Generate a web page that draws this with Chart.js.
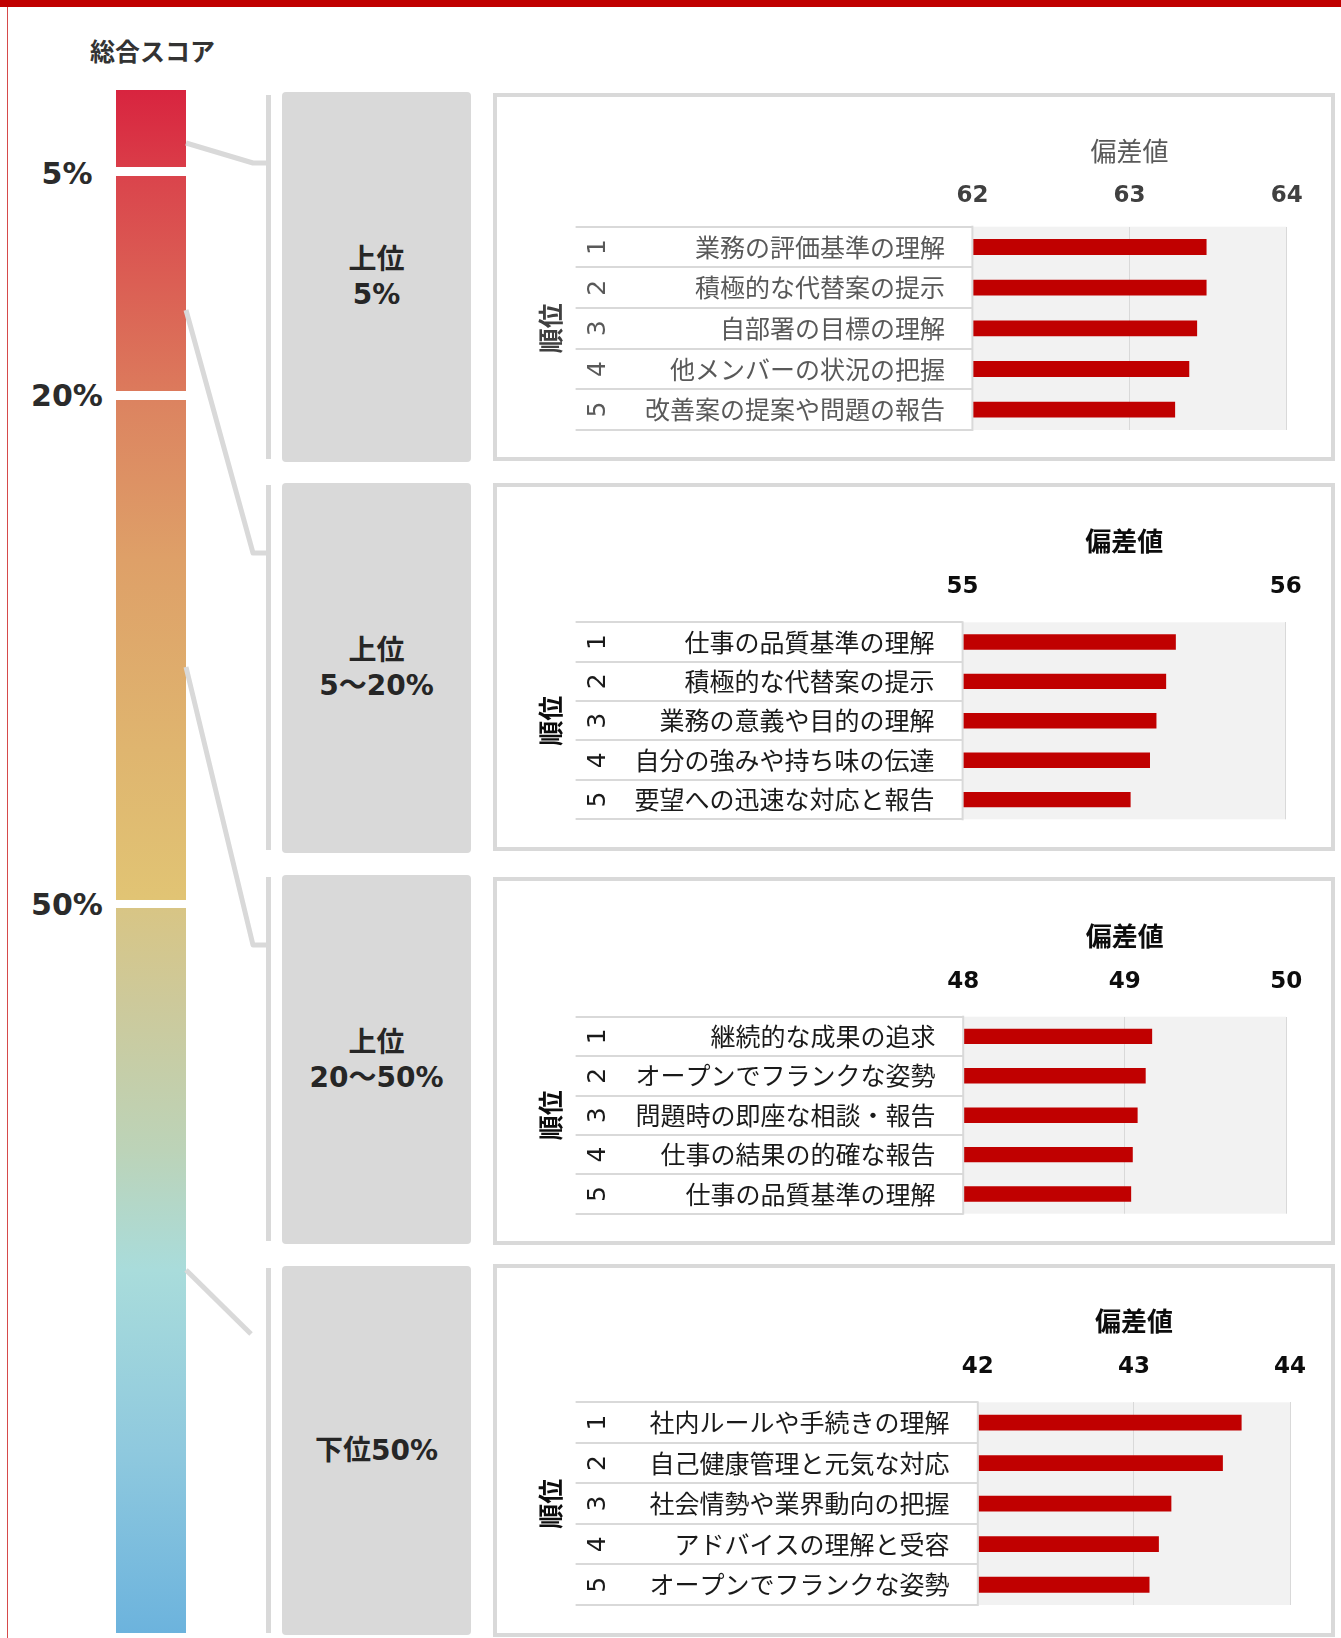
<!DOCTYPE html>
<html lang="ja">
<head>
<meta charset="utf-8">
<script src="https://cdn.jsdelivr.net/npm/chart.js@4.4.1/dist/chart.umd.min.js"></script>
<style>
  html, body { margin: 0; padding: 0; background: #fff; }
  #page { position: relative; width: 1341px; height: 1638px; overflow: hidden;
          font-family: "DejaVu Sans", "Noto Sans CJK JP", sans-serif; color: #333; }
  .abs { position: absolute; }
  .heading { left: 90px; top: 30px; font: bold 25px "Noto Sans CJK JP", sans-serif; line-height: 40px; color: #333; }
  .band-label { width: 96px; text-align: center; font-weight: bold; font-size: 30px; line-height: 36px; color: #2b2b2b; }
  .group { left: 282px; width: 189px; background: #d9d9d9; border-radius: 4px;
           display: flex; align-items: center; justify-content: center; text-align: center;
           white-space: pre-line; font-weight: bold; font-size: 28px; line-height: 35px; color: #262626; }
  .bracket { left: 266px; width: 5px; background: #d9d9d9; }
  .panel { left: 493px; width: 842px; box-sizing: border-box; border: 4px solid #d9d9d9; background: #fff; }
  .panel canvas { position: absolute; left: 0; top: 0; }
</style>
</head>
<body>
<div id="page">
  <div class="abs" style="left:0;top:0;width:1341px;height:7px;background:#c00000"></div>
  <div class="abs" style="left:7px;top:7px;width:1px;height:1631px;background:#d64a4a"></div>
  <div class="abs heading">総合スコア</div>
  <div class="abs" id="scoreBar" style="left:116px;top:90px;width:70px;height:1543px;
    background:linear-gradient(to bottom,#d8243f 0px,#da3c48 77px,#da444c 86px,#dc7a5c 301px,#dc8360 310px,
    #dea068 470px,#dfb56f 660px,#e1c474 810px,#d8c585 818px,#cdc99a 910px,#bcd3b8 1060px,#a9dcdb 1180px,
    #8fc9de 1360px,#6cb3dd 1543px)"></div>
  <svg class="abs" id="links" style="left:0;top:0" width="1341" height="1638"></svg>
</div>

<script>
// 総合スコアの区切り
const scoreBands = ['5%', '20%', '50%'];
const groupNames = ['上位\n5%', '上位\n5～20%', '上位\n20～50%', '下位50%'];
const rankLabels = ['1', '2', '3', '4', '5'];

// 上位5%
const top5Items = ['業務の評価基準の理解', '積極的な代替案の提示', '自部署の目標の理解', '他メンバーの状況の把握', '改善案の提案や問題の報告'];
const top5Scores = [63.49, 63.49, 63.43, 63.38, 63.29];
const top5Ticks = [62, 63, 64];

// 上位5～20%
const top20Items = ['仕事の品質基準の理解', '積極的な代替案の提示', '業務の意義や目的の理解', '自分の強みや持ち味の伝達', '要望への迅速な対応と報告'];
const top20Scores = [55.66, 55.63, 55.60, 55.58, 55.52];
const top20Ticks = [55, 56];

// 上位20～50%
const top50Items = ['継続的な成果の追求', 'オープンでフランクな姿勢', '問題時の即座な相談・報告', '仕事の結果の的確な報告', '仕事の品質基準の理解'];
const top50Scores = [49.17, 49.13, 49.08, 49.05, 49.04];
const top50Ticks = [48, 49, 50];

// 下位50%
const bottom50Items = ['社内ルールや手続きの理解', '自己健康管理と元気な対応', '社会情勢や業界動向の把握', 'アドバイスの理解と受容', 'オープンでフランクな姿勢'];
const bottom50Scores = [43.69, 43.57, 43.24, 43.16, 43.10];
const bottom50Ticks = [42, 43, 44];

// レイアウト（ページ座標）
const bandGaps = [[167, 9, 174], [391, 9, 396], [900, 8, 905]];
const groupBoxes = [[92, 462], [483, 853], [875, 1244], [1266, 1635]];
const brackets = [[95, 459], [485, 850], [877, 1241], [1268, 1633]];
const linkPaths = ['186,143 253,163 268,163', '186,310 253,553 268,553', '186,667 253,945 268,945', '186,1270 251,1334'];
const panels = [
  { top: 93, height: 368, plotLeft: 972.4, plotRight: 1286.7, plotTop: 226.7, plotBottom: 430, titleY: 150.7, tickY: 196, labelRight: 945 },
  { top: 483, height: 368, plotLeft: 962.6, plotRight: 1285.7, plotTop: 622.3, plotBottom: 819.3, titleY: 540.7, tickY: 587, labelRight: 934.4 },
  { top: 877, height: 368, plotLeft: 963.2, plotRight: 1286.2, plotTop: 1016.7, plotBottom: 1213.7, titleY: 935.7, tickY: 982, labelRight: 935.5 },
  { top: 1264, height: 373, plotLeft: 977.8, plotRight: 1290, plotTop: 1402.3, plotBottom: 1605, titleY: 1321, tickY: 1367.5, labelRight: 949.6 }
];
const muted = { title: '#595959', titleWeight: 'normal', tick: '#404040', label: '#595959', rank: '#595959', axis: '#404040' };
const strong = { title: '#0d0d0d', titleWeight: 'bold', tick: '#0d0d0d', label: '#1a1a1a', rank: '#1a1a1a', axis: '#0d0d0d' };

const page = document.getElementById('page');

// 左のバー：白い区切りとラベル
bandGaps.forEach(([y, h, ly], i) => {
  const gap = document.createElement('div');
  gap.className = 'abs';
  gap.style.cssText = `left:116px;top:${y}px;width:70px;height:${h}px;background:#fff`;
  page.appendChild(gap);
  const lab = document.createElement('div');
  lab.className = 'abs band-label';
  lab.style.cssText = `left:19px;top:${ly - 18}px`;
  lab.textContent = scoreBands[i];
  page.appendChild(lab);
});

// つなぎ線
const svg = document.getElementById('links');
linkPaths.forEach(p => {
  const pl = document.createElementNS('http://www.w3.org/2000/svg', 'polyline');
  pl.setAttribute('points', p);
  pl.setAttribute('fill', 'none');
  pl.setAttribute('stroke', '#d9d9d9');
  pl.setAttribute('stroke-width', '5');
  pl.setAttribute('stroke-linejoin', 'round');
  svg.appendChild(pl);
});

brackets.forEach(([a, b]) => {
  const d = document.createElement('div');
  d.className = 'abs bracket';
  d.style.cssText = `top:${a}px;height:${b - a}px`;
  page.appendChild(d);
});

groupBoxes.forEach(([a, b], i) => {
  const d = document.createElement('div');
  d.className = 'abs group';
  d.style.cssText = `top:${a}px;height:${b - a}px`;
  d.textContent = groupNames[i];
  page.appendChild(d);
});

// 順位表（罫線・順位番号）と背景
const rankTable = {
  id: 'rankTable',
  beforeDraw(chart) {
    const { ctx, chartArea: a } = chart;
    ctx.save();
    ctx.fillStyle = '#f2f2f2';
    ctx.fillRect(a.left, a.top, a.right - a.left, a.bottom - a.top);
    ctx.restore();
  },
  afterDraw(chart, args, o) {
    const { ctx, chartArea: a, scales: { y } } = chart;
    ctx.save();
    ctx.strokeStyle = '#d9d9d9';
    ctx.lineWidth = 2;
    for (let i = 0; i <= rankLabels.length; i++) {
      const py = Math.round(y.getPixelForValue(i - 0.5));
      ctx.beginPath();
      ctx.moveTo(o.tableLeft, py);
      ctx.lineTo(a.left, py);
      ctx.stroke();
    }
    ctx.beginPath();
    ctx.moveTo(a.left, a.top - 1);
    ctx.lineTo(a.left, a.bottom + 1);
    ctx.stroke();

    ctx.fillStyle = o.color;
    ctx.font = '25px "DejaVu Sans", sans-serif';
    ctx.textAlign = 'center';
    ctx.textBaseline = 'middle';
    rankLabels.forEach((r, i) => {
      ctx.save();
      ctx.translate(o.rankX, y.getPixelForValue(i));
      ctx.rotate(-Math.PI / 2);
      ctx.fillText(r, 0, 0);
      ctx.restore();
    });
    ctx.restore();
  }
};

function makePanel(lay, items, scores, ticks, look) {
  const box = document.createElement('div');
  box.className = 'abs panel';
  box.style.cssText = `top:${lay.top}px;height:${lay.height}px`;
  const canvas = document.createElement('canvas');
  const W = 834, H = lay.height - 8;
  canvas.width = W;
  canvas.height = H;
  box.appendChild(canvas);
  page.appendChild(box);

  const ox = 497, oy = lay.top + 4;
  const plotL = lay.plotLeft - ox, plotR = lay.plotRight - ox;
  const plotT = lay.plotTop - oy, plotB = lay.plotBottom - oy;
  const tickSize = 23, titleSize = 26, labelSize = 25, axisSize = 25;

  new Chart(canvas, {
    type: 'bar',
    data: {
      labels: items,
      datasets: [{
        data: scores,
        base: ticks[0],
        backgroundColor: '#c00000',
        borderWidth: 0,
        barPercentage: 0.39,
        categoryPercentage: 1
      }]
    },
    options: {
      indexAxis: 'y',
      responsive: false,
      animation: false,
      devicePixelRatio: 1,
      layout: { padding: { left: 0, top: 0, right: W - plotR, bottom: H - plotB } },
      plugins: {
        legend: { display: false },
        tooltip: { enabled: false },
        rankTable: { tableLeft: 575.6 - ox, rankX: 598.4 - ox, color: look.rank }
      },
      scales: {
        x: {
          type: 'linear',
          position: 'top',
          min: ticks[0],
          max: ticks[ticks.length - 1],
          afterBuildTicks: s => { s.ticks = ticks.map(v => ({ value: v })); },
          afterFit: s => { s.height = plotT; s.paddingLeft = 0; s.paddingRight = 0; },
          grid: { color: '#d9d9d9', lineWidth: 1, drawTicks: false },
          border: { display: false },
          ticks: {
            padding: plotT - (lay.tickY - oy) - tickSize * 0.6,
            color: look.tick,
            font: { family: '"DejaVu Sans", sans-serif', size: tickSize, weight: 'bold' }
          },
          title: {
            display: true,
            text: '偏差値',
            color: look.title,
            padding: { top: (lay.titleY - oy) - titleSize * 0.6, bottom: 0 },
            font: { family: '"Noto Sans CJK JP", sans-serif', size: titleSize, weight: look.titleWeight }
          }
        },
        y: {
          position: 'left',
          afterFit: s => { s.width = plotL; s.paddingTop = 0; s.paddingBottom = 0; },
          grid: { display: false, drawTicks: false },
          border: { display: false },
          ticks: {
            autoSkip: false,
            padding: lay.plotLeft - lay.labelRight,
            color: look.label,
            font: { family: '"Noto Sans CJK JP", sans-serif', size: labelSize }
          },
          title: {
            display: true,
            text: '順位',
            color: look.axis,
            padding: { top: (550.7 - ox) - axisSize * 0.6, bottom: 0 },
            font: { family: '"Noto Sans CJK JP", sans-serif', size: axisSize, weight: 'bold' }
          }
        }
      }
    },
    plugins: [rankTable]
  });
}

makePanel(panels[0], top5Items, top5Scores, top5Ticks, muted);
makePanel(panels[1], top20Items, top20Scores, top20Ticks, strong);
makePanel(panels[2], top50Items, top50Scores, top50Ticks, strong);
makePanel(panels[3], bottom50Items, bottom50Scores, bottom50Ticks, strong);
</script>
</body>
</html>
